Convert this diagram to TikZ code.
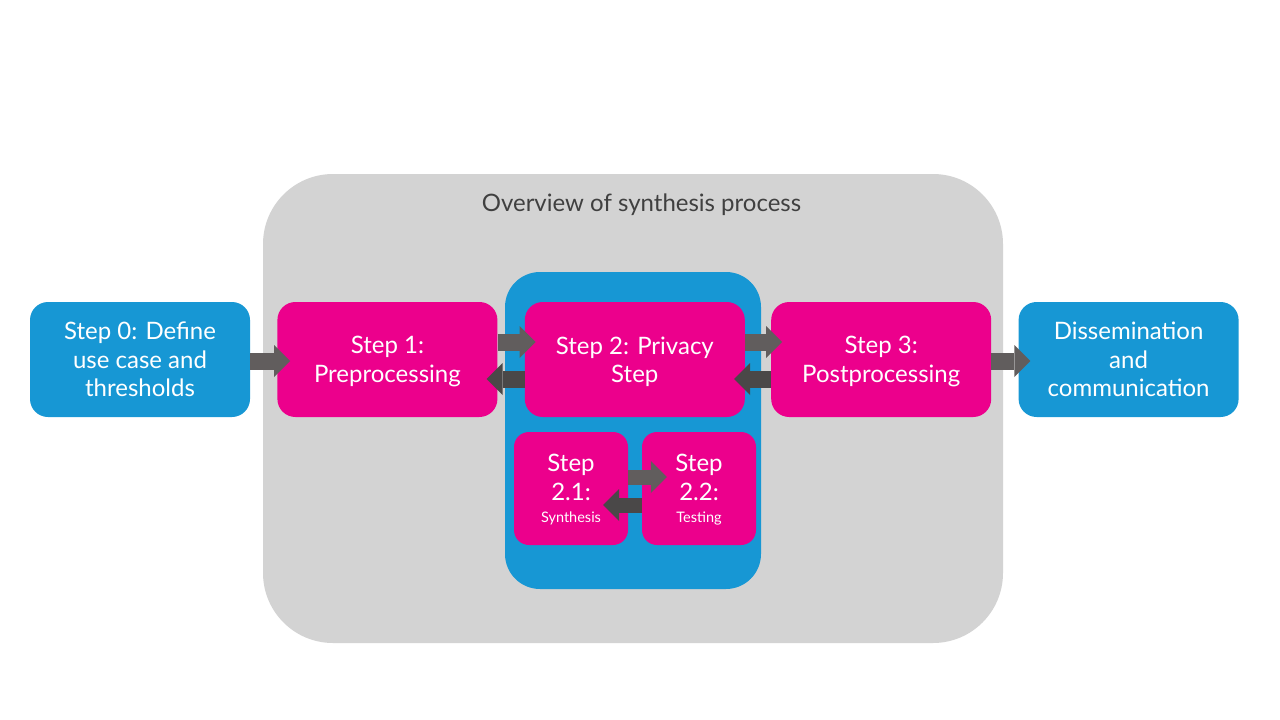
\documentclass[tikz,border=0pt]{standalone}
\usepackage{fontspec}
\setmainfont{Lato}
\usetikzlibrary{positioning,arrows.meta}

\definecolor{stepblue}{HTML}{1797D4}
\definecolor{steppink}{HTML}{EC008C}
\definecolor{panelgrey}{HTML}{D3D3D3}
\definecolor{fwdgrey}{HTML}{615D5D}
\definecolor{backgrey}{HTML}{4A4848}
\definecolor{titlegrey}{HTML}{404040}

\tikzset{
  stepbox/.style={rounded corners=18pt, minimum width=220pt, minimum height=115pt,
    inner sep=0pt, align=center, text=white, text depth=-3pt,
    font=\fontsize{24}{28.5}\selectfont},
  bluebox/.style={stepbox, fill=stepblue},
  pinkbox/.style={stepbox, fill=steppink},
  subbox/.style={pinkbox, rounded corners=15pt, minimum width=114pt, minimum height=113pt},
  fwd/.style={fwdgrey, line width=17pt, shorten >=-11pt,
    -{Triangle[length=16pt,width=32pt,line width=0pt]}},
  back/.style={fwd, backgrey},
  subfwd/.style={fwd, line width=15pt},
  subback/.style={back, line width=15pt},
}

\begin{document}
\begin{tikzpicture}[x=1pt,y=-1pt]
\useasboundingbox (0,0) rectangle (1280,720);
% containers
\node[fill=panelgrey, rounded corners=70pt, minimum width=740pt, minimum height=469pt] (panel) at (633,408.5) {};
\node[text=titlegrey, font=\fontsize{24}{28}\selectfont] (title) at (641.5,205) {Overview of synthesis process};
\node[fill=stepblue, rounded corners=35pt, minimum width=256pt, minimum height=317pt] (inner) at (633,430.5) {};
% main steps
\node[bluebox] (s0) at (140,359.5) {Step 0: Define\\use case and\\thresholds};
\node[pinkbox, right=27pt of s0] (s1) {Step 1:\\Preprocessing};
\node[pinkbox, right=27pt of s1] (s2) {Step 2: Privacy\\Step};
\node[pinkbox, right=26pt of s2] (s3) {Step 3:\\Postprocessing};
\node[bluebox, right=27pt of s3] (dis) {Dissemination\\and\\communication};
% sub steps
\node[subbox] (s21) at (571,488.5) {Step\\2.1:\\[-6pt]{\fontsize{14.5}{17}\selectfont Synthesis}};
\node[subbox] (s22) at (699,488.5) {Step\\2.2:\\[-6pt]{\fontsize{14.5}{17}\selectfont Testing}};
% arrows
\draw[fwd, shorten >=-13pt] ([yshift=-1.5pt]s0.east) -- ([yshift=-1.5pt]s1.west);
\draw[fwd] ([yshift=17.5pt]s1.east) -- ([yshift=17.5pt]s2.west);
\draw[back] ([yshift=-19.5pt]s2.west) -- ([yshift=-19.5pt]s1.east);
\draw[fwd] ([yshift=17.5pt]s2.east) -- ([yshift=17.5pt]s3.west);
\draw[back] ([yshift=-19.5pt]s3.west) -- ([yshift=-19.5pt]s2.east);
\draw[fwd, shorten >=-12pt] ([yshift=-1.5pt]s3.east) -- ([yshift=-1.5pt]dis.west);
\draw[subfwd, shorten >=-25pt] ([yshift=11.5pt]s21.east) -- ([yshift=11.5pt]s22.west);
\draw[subback, shorten >=-25pt] ([yshift=-16.5pt]s22.west) -- ([yshift=-16.5pt]s21.east);
\end{tikzpicture}
\end{document}
